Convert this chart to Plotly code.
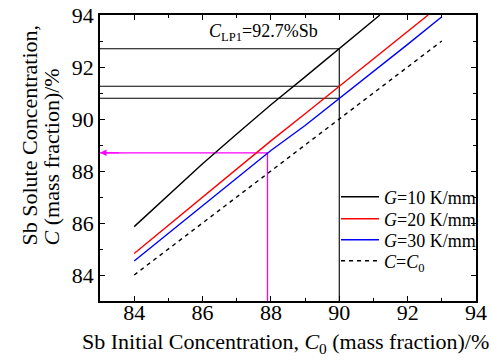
import plotly.graph_objects as go

# ---- data ----
C0_G10 = [84, 85, 86, 87, 88, 89, 90, 91, 91.19]
C_G10 = [85.86, 87.07, 88.28, 89.42, 90.55, 91.62, 92.7, 93.78, 94.0]

C0_G20 = [84, 85, 86, 87, 88, 89, 90, 91, 92, 92.6]
C_G20 = [84.83, 85.92, 87.0, 88.1, 89.16, 90.2, 91.26, 92.32, 93.38, 94.0]

C0_G30 = [84, 85, 86, 87, 88, 89, 90, 91, 92, 93]
C_G30 = [84.54, 85.6, 86.66, 87.72, 88.79, 89.75, 90.78, 91.82, 92.87, 93.93]

C0_ref = [84, 93]
C_ref = [84, 93]

x_min, x_max = 83, 94
y_min, y_max = 83, 94
C0_cut = 90                       # vertical guide
C_levels = [92.7, 91.26, 90.8]    # horizontal guides (C_LP1, G=20, G=30)
C0_mag, C_mag = 87.9, 88.7        # magenta guide

FONT = "Liberation Serif"

fig = go.Figure()

# guide lines (black)
for lv in C_levels:
    fig.add_trace(go.Scatter(x=[x_min, C0_cut], y=[lv, lv], mode="lines",
                             line=dict(color="black", width=1.1), showlegend=False,
                             hoverinfo="skip"))
fig.add_trace(go.Scatter(x=[C0_cut, C0_cut], y=[y_min, C_levels[0]], mode="lines",
                         line=dict(color="black", width=1.1), showlegend=False,
                         hoverinfo="skip"))
# magenta guide
fig.add_trace(go.Scatter(x=[x_min, C0_mag, C0_mag], y=[C_mag, C_mag, y_min], mode="lines",
                         line=dict(color="#FF00FF", width=1.3), showlegend=False,
                         hoverinfo="skip"))

# curves, each in its own legend so row spacing can match the reference
series = [
    (C0_G10, C_G10, "<i>G</i>=10 K/mm", dict(color="black", width=1.4), "legend"),
    (C0_G20, C_G20, "<i>G</i>=20 K/mm", dict(color="#FF0000", width=1.4), "legend2"),
    (C0_G30, C_G30, "<i>G</i>=30 K/mm", dict(color="#0000FF", width=1.4), "legend3"),
    (C0_ref, C_ref, "<i>C</i>=<i>C</i><sub>0</sub>", dict(color="black", width=1.4, dash="4px,4px"), "legend4"),
]
for xs, ys, nm, ln, lg in series:
    fig.add_trace(go.Scatter(x=xs, y=ys, mode="lines", name=nm, line=ln, legend=lg))

# arrow on magenta line
fig.add_annotation(x=x_min, y=C_mag, ax=x_min + 0.6, ay=C_mag, xref="x", yref="y",
                   axref="x", ayref="y", showarrow=True, arrowhead=2, arrowsize=1,
                   arrowwidth=1.3, arrowcolor="#FF00FF", text="")

# C_LP1 label
fig.add_annotation(x=87.77, y=C_levels[0], yshift=16, xref="x", yref="y",
                   text="<i>C</i><sub>LP1</sub>=92.7%Sb", showarrow=False,
                   font=dict(family=FONT, size=18, color="black"))

# axis titles as annotations (reference lines are tight and bottom-aligned)
PW, PH, L, T = 376, 286, 100, 15
def px_x(px):
    return (px - L) / PW
def px_y(py):
    return (T + PH - py) / PH

fig.add_annotation(x=px_x(285), y=px_y(343), xref="paper", yref="paper",
                   xanchor="center", yanchor="middle", showarrow=False,
                   text="Sb Initial Concentration, <i>C</i><sub>0</sub> (mass fraction)/%",
                   font=dict(family=FONT, size=22, color="black"))
fig.add_annotation(x=px_x(29), y=px_y(248), xref="paper", yref="paper",
                   xanchor="center", yanchor="bottom", showarrow=False, textangle=-90,
                   text="Sb Solute Concentration,",
                   font=dict(family=FONT, size=22, color="black"))
fig.add_annotation(x=px_x(51), y=px_y(248), xref="paper", yref="paper",
                   xanchor="center", yanchor="bottom", showarrow=False, textangle=-90,
                   text="<i>C</i> (mass fraction)/%",
                   font=dict(family=FONT, size=22, color="black"))

axis_common = dict(
    showline=True, linecolor="black", linewidth=1.8, mirror="ticks",
    ticks="inside", ticklen=5, tickwidth=1.2, tickcolor="black",
    showgrid=False, zeroline=False, automargin=False,
    tickfont=dict(family=FONT, size=22, color="black"),
    minor=dict(ticks="inside", ticklen=3, tickwidth=1, tickcolor="black", dtick=1),
)

fig.update_xaxes(range=[x_min, x_max], dtick=2, tick0=84, ticklabelstandoff=-9,
                 **axis_common)
fig.update_yaxes(range=[y_min, y_max], dtick=2, tick0=84, **axis_common)

leg_common = dict(x=px_x(336), xanchor="left", yanchor="middle",
                  bgcolor="rgba(0,0,0,0)", borderwidth=0,
                  font=dict(family=FONT, size=18, color="black"), itemwidth=38)
row_px = [197, 219, 240, 261]
legends = {}
for i, py in enumerate(row_px):
    key = "legend" if i == 0 else f"legend{i+1}"
    legends[key] = dict(leg_common, y=px_y(py))

fig.update_layout(
    width=491, height=362,
    margin=dict(l=L, r=491 - L - PW, t=T, b=362 - T - PH, autoexpand=False),
    plot_bgcolor="white", paper_bgcolor="white",
    font=dict(family=FONT, color="black"),
    showlegend=True,
    **legends,
)

fig.write_html("out.html", config={"displayModeBar": False},
               post_script="document.body.style.margin='0';document.body.style.overflow='hidden';")
